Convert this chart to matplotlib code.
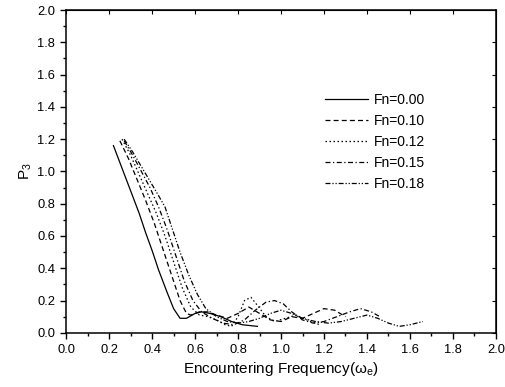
import matplotlib
matplotlib.use('Agg')
import matplotlib.pyplot as plt
from matplotlib.ticker import MultipleLocator

plt.rcParams['font.family'] = ['Liberation Sans', 'DejaVu Sans']
plt.rcParams['mathtext.default'] = 'regular'

# --- data ---
x_000 = [0.22, 0.26, 0.30, 0.34, 0.37, 0.40, 0.43, 0.47, 0.50, 0.53, 0.56,
         0.60, 0.63, 0.67, 0.72, 0.77, 0.82, 0.89]
y_000 = [1.16, 1.02, 0.88, 0.74, 0.62, 0.51, 0.39, 0.25, 0.15, 0.09, 0.09,
         0.12, 0.13, 0.12, 0.10, 0.07, 0.05, 0.04]

x_010 = [0.25, 0.29, 0.33, 0.37, 0.41, 0.45, 0.49, 0.53, 0.56, 0.58, 0.62,
         0.66, 0.70, 0.75, 0.80, 0.85, 0.90, 0.95, 1.00, 1.05, 1.10, 1.15,
         1.20, 1.25, 1.30]
y_010 = [1.19, 1.08, 0.95, 0.82, 0.68, 0.52, 0.36, 0.20, 0.12, 0.11, 0.13,
         0.13, 0.11, 0.09, 0.12, 0.16, 0.12, 0.08, 0.07, 0.10, 0.09, 0.12,
         0.15, 0.14, 0.10]

x_012 = [0.26, 0.30, 0.34, 0.38, 0.42, 0.46, 0.50, 0.54, 0.58, 0.62, 0.66,
         0.70, 0.74, 0.77, 0.80, 0.83, 0.86, 0.89, 0.93, 0.97, 1.02, 1.07,
         1.12, 1.18]
y_012 = [1.20, 1.10, 0.98, 0.86, 0.74, 0.60, 0.44, 0.28, 0.16, 0.11, 0.10,
         0.08, 0.05, 0.04, 0.10, 0.20, 0.22, 0.17, 0.10, 0.07, 0.09, 0.11,
         0.08, 0.05]

x_015 = [0.27, 0.31, 0.35, 0.39, 0.43, 0.47, 0.51, 0.55, 0.59, 0.63, 0.68,
         0.73, 0.78, 0.83, 0.88, 0.93, 0.97, 1.01, 1.05, 1.10, 1.15, 1.20,
         1.26, 1.32, 1.37, 1.42, 1.46]
y_015 = [1.19, 1.10, 1.00, 0.90, 0.78, 0.64, 0.48, 0.32, 0.20, 0.13, 0.09,
         0.06, 0.05, 0.08, 0.14, 0.19, 0.20, 0.18, 0.13, 0.08, 0.06, 0.07,
         0.10, 0.13, 0.15, 0.13, 0.10]

x_018 = [0.27, 0.31, 0.35, 0.39, 0.43, 0.46, 0.49, 0.53, 0.57, 0.61, 0.65,
         0.70, 0.75, 0.80, 0.85, 0.90, 0.95, 1.00, 1.05, 1.10, 1.16, 1.22,
         1.28, 1.34, 1.40, 1.45, 1.50, 1.55, 1.60, 1.66]
y_018 = [1.20, 1.12, 1.03, 0.94, 0.85, 0.78, 0.66, 0.50, 0.36, 0.24, 0.15,
         0.10, 0.07, 0.06, 0.07, 0.09, 0.12, 0.14, 0.12, 0.09, 0.07, 0.06,
         0.07, 0.09, 0.11, 0.09, 0.06, 0.04, 0.05, 0.07]

labels = ['Fn=0.00', 'Fn=0.10', 'Fn=0.12', 'Fn=0.15', 'Fn=0.18']

# --- figure ---
fig = plt.figure(figsize=(5.05, 3.87), dpi=100)
ax = fig.add_axes([0.131, 0.14, 0.851, 0.834])

lw = 0.9
ax.plot(x_000, y_000, color='black', lw=lw, ls='-', label=labels[0])
ax.plot(x_010, y_010, color='black', lw=lw, ls=(0, (4, 2.5)), label=labels[1])
ax.plot(x_012, y_012, color='black', lw=lw, ls=(0, (1.2, 2)), label=labels[2])
ax.plot(x_015, y_015, color='black', lw=lw, ls=(0, (4, 2, 1, 2)), label=labels[3])
ax.plot(x_018, y_018, color='black', lw=lw, ls=(0, (4, 1.5, 1, 1.5, 1, 1.5)),
        label=labels[4])

ax.set_xlim(0, 2.0)
ax.set_ylim(0, 2.0)
ax.xaxis.set_major_locator(MultipleLocator(0.2))
ax.xaxis.set_minor_locator(MultipleLocator(0.1))
ax.yaxis.set_major_locator(MultipleLocator(0.2))
ax.yaxis.set_minor_locator(MultipleLocator(0.1))
ax.xaxis.set_major_formatter(matplotlib.ticker.FormatStrFormatter('%.1f'))
ax.yaxis.set_major_formatter(matplotlib.ticker.FormatStrFormatter('%.1f'))

ax.tick_params(which='both', direction='out', labelsize=9.3, width=1)
ax.tick_params(which='major', length=4, pad=4)
ax.tick_params(which='minor', length=2.5)
ax2 = ax.secondary_xaxis('top')
ax2.xaxis.set_major_locator(MultipleLocator(0.2))
ax2.tick_params(direction='in', length=3, labeltop=False)
ay2 = ax.secondary_yaxis('right')
ay2.yaxis.set_major_locator(MultipleLocator(0.2))
ay2.tick_params(direction='in', length=3, labelright=False)

for sp in ax.spines.values():
    sp.set_linewidth(1.1)

ax.set_xlabel(r'Encountering Frequency($\omega_e$)', fontsize=11, labelpad=3)
ax.set_ylabel(r'P$_3$', fontsize=11, labelpad=2)

ax.legend(loc='upper left', bbox_to_anchor=(0.585, 0.765), frameon=False,
          fontsize=10, handlelength=3.1, handletextpad=0.45, labelspacing=0.5,
          borderpad=0)

fig.savefig('out.png', dpi=100)
